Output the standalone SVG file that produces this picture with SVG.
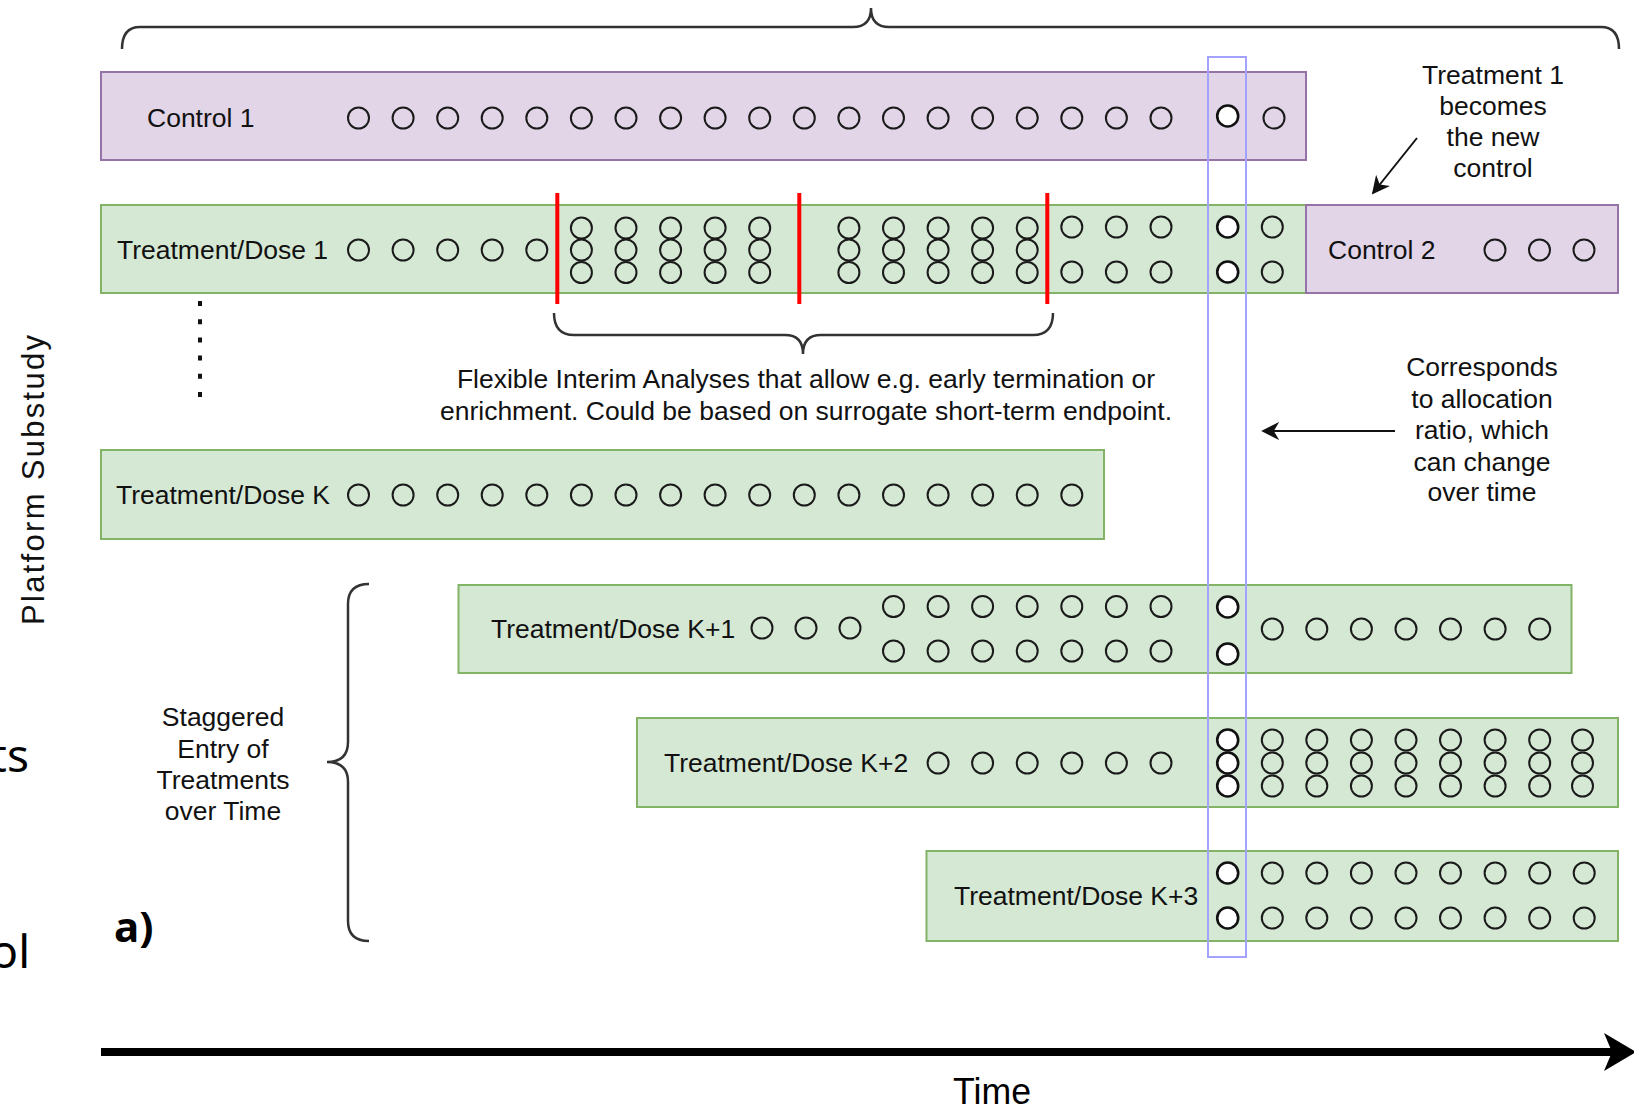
<svg xmlns="http://www.w3.org/2000/svg" width="1634" height="1111" viewBox="0 0 1634 1111">
<style>
.lbl{font-family:"Liberation Sans",Arial,sans-serif;font-size:26.5px;fill:#111}
.note{font-family:"Liberation Sans",Arial,sans-serif;font-size:26.5px;fill:#111;text-anchor:middle}
.purple{fill:#e1d5e7;stroke:#9673a6;stroke-width:2}
.green{fill:#d5e8d4;stroke:#82b366;stroke-width:2}
.c{fill:none;stroke:#1a1a1a;stroke-width:2}
.w{fill:#fff;stroke:#111;stroke-width:2.6}
.red{stroke:#ff0000;stroke-width:4}
.brace{fill:none;stroke:#333;stroke-width:2.5}
.arr{fill:none;stroke:#111;stroke-width:2}
.cut{font-family:"Noto Sans","Open Sans",sans-serif;font-size:46px;fill:#000}
</style>
<defs>
<marker id="ah" viewBox="0 0 10 10" refX="9" refY="5" markerWidth="9" markerHeight="9" orient="auto" markerUnits="strokeWidth">
<path d="M0,0 L10,5 L0,10 L3,5 z" fill="#111"/>
</marker>
</defs>
<rect width="1634" height="1111" fill="#fff"/>

<!-- cut-off text fragments at left edge -->
<text class="cut" x="29" y="772" text-anchor="end">ts</text>
<text class="cut" x="30" y="968" text-anchor="end">ol</text>

<!-- vertical axis label -->
<text transform="translate(44,480) rotate(-90)" text-anchor="middle" font-family="Liberation Sans,Arial,sans-serif" font-size="31" fill="#111" textLength="290" lengthAdjust="spacing">Platform Substudy</text>

<!-- braces -->
<g id="braces">
<path class="brace" d="M122,49 Q122,27 140,27 L853,27 Q871,27 871,8 Q871,27 889,27 L1601,27 Q1619,27 1619,49"/>
<path class="brace" d="M554,313 Q554,335 574,335 L785,335 Q803,335 803,354 Q803,335 821,335 L1033,335 Q1053,335 1053,313" stroke="#222"/>
<path class="brace" d="M369,584 Q348,584 348,604 L348,742 Q348,762 327,762 Q348,762 348,782 L348,921 Q348,941 369,941" stroke-width="2"/>
</g>

<!-- Control 1 -->
<g id="control1">
<rect class="purple" x="101" y="72" width="1205" height="88"/>
<text class="lbl" x="147" y="127">Control 1</text>
<g class="circles">
<circle class="c" cx="358.5" cy="118" r="10.5"/><circle class="c" cx="403.1" cy="118" r="10.5"/><circle class="c" cx="447.7" cy="118" r="10.5"/><circle class="c" cx="492.2" cy="118" r="10.5"/><circle class="c" cx="536.8" cy="118" r="10.5"/><circle class="c" cx="581.4" cy="118" r="10.5"/><circle class="c" cx="626" cy="118" r="10.5"/><circle class="c" cx="670.6" cy="118" r="10.5"/><circle class="c" cx="715.1" cy="118" r="10.5"/><circle class="c" cx="759.7" cy="118" r="10.5"/><circle class="c" cx="804.3" cy="118" r="10.5"/><circle class="c" cx="848.9" cy="118" r="10.5"/><circle class="c" cx="893.5" cy="118" r="10.5"/><circle class="c" cx="938.1" cy="118" r="10.5"/><circle class="c" cx="982.6" cy="118" r="10.5"/><circle class="c" cx="1027.2" cy="118" r="10.5"/><circle class="c" cx="1071.8" cy="118" r="10.5"/><circle class="c" cx="1116.4" cy="118" r="10.5"/><circle class="c" cx="1161" cy="118" r="10.5"/>
<circle class="c" cx="1274" cy="118" r="10.5"/>
</g>
</g>

<!-- Treatment/Dose 1 -->
<g id="treatment1">
<rect class="green" x="101" y="205" width="1205" height="88"/>
<text class="lbl" x="117" y="259">Treatment/Dose 1</text>
<circle class="c" cx="358.5" cy="250" r="10.5"/><circle class="c" cx="403.1" cy="250" r="10.5"/><circle class="c" cx="447.7" cy="250" r="10.5"/><circle class="c" cx="492.2" cy="250" r="10.5"/><circle class="c" cx="536.8" cy="250" r="10.5"/>
<g id="stack1">
<circle class="c" cx="581.4" cy="228" r="10.5"/><circle class="c" cx="581.4" cy="250" r="10.5"/><circle class="c" cx="581.4" cy="272.5" r="10.5"/>
<circle class="c" cx="626" cy="228" r="10.5"/><circle class="c" cx="626" cy="250" r="10.5"/><circle class="c" cx="626" cy="272.5" r="10.5"/>
<circle class="c" cx="670.6" cy="228" r="10.5"/><circle class="c" cx="670.6" cy="250" r="10.5"/><circle class="c" cx="670.6" cy="272.5" r="10.5"/>
<circle class="c" cx="715.1" cy="228" r="10.5"/><circle class="c" cx="715.1" cy="250" r="10.5"/><circle class="c" cx="715.1" cy="272.5" r="10.5"/>
<circle class="c" cx="759.7" cy="228" r="10.5"/><circle class="c" cx="759.7" cy="250" r="10.5"/><circle class="c" cx="759.7" cy="272.5" r="10.5"/>
</g>
<g id="stack2">
<circle class="c" cx="848.9" cy="228" r="10.5"/><circle class="c" cx="848.9" cy="250" r="10.5"/><circle class="c" cx="848.9" cy="272.5" r="10.5"/>
<circle class="c" cx="893.5" cy="228" r="10.5"/><circle class="c" cx="893.5" cy="250" r="10.5"/><circle class="c" cx="893.5" cy="272.5" r="10.5"/>
<circle class="c" cx="938.1" cy="228" r="10.5"/><circle class="c" cx="938.1" cy="250" r="10.5"/><circle class="c" cx="938.1" cy="272.5" r="10.5"/>
<circle class="c" cx="982.6" cy="228" r="10.5"/><circle class="c" cx="982.6" cy="250" r="10.5"/><circle class="c" cx="982.6" cy="272.5" r="10.5"/>
<circle class="c" cx="1027.2" cy="228" r="10.5"/><circle class="c" cx="1027.2" cy="250" r="10.5"/><circle class="c" cx="1027.2" cy="272.5" r="10.5"/>
</g>
<circle class="c" cx="1071.8" cy="227" r="10.5"/><circle class="c" cx="1071.8" cy="272" r="10.5"/>
<circle class="c" cx="1116.4" cy="227" r="10.5"/><circle class="c" cx="1116.4" cy="272" r="10.5"/>
<circle class="c" cx="1161" cy="227" r="10.5"/><circle class="c" cx="1161" cy="272" r="10.5"/>
<circle class="c" cx="1272.3" cy="227" r="10.5"/><circle class="c" cx="1272.3" cy="272" r="10.5"/>
<line class="red" x1="557.3" y1="193" x2="557.3" y2="304"/>
<line class="red" x1="799.3" y1="193" x2="799.3" y2="304"/>
<line class="red" x1="1047.3" y1="193" x2="1047.3" y2="304"/>
</g>

<!-- Control 2 -->
<g id="control2">
<rect class="purple" x="1306" y="205" width="312" height="88"/>
<text class="lbl" x="1328" y="259">Control 2</text>
<circle class="c" cx="1495" cy="250" r="10.5"/><circle class="c" cx="1539.5" cy="250" r="10.5"/><circle class="c" cx="1584" cy="250" r="10.5"/>
</g>

<!-- ellipsis dots -->
<line x1="200" y1="301" x2="200" y2="397" stroke="#111" stroke-width="4" stroke-dasharray="5 13.2"/>

<!-- interim analyses note -->
<g id="note-interim">
<text class="note" x="806" y="388">Flexible Interim Analyses that allow e.g. early termination or</text>
<text class="note" x="806" y="420">enrichment. Could be based on surrogate short-term endpoint.</text>
</g>

<!-- Treatment/Dose K -->
<g id="treatmentK">
<rect class="green" x="101" y="450" width="1003" height="89"/>
<text class="lbl" x="116" y="504">Treatment/Dose K</text>
<circle class="c" cx="358.5" cy="495" r="10.5"/><circle class="c" cx="403.1" cy="495" r="10.5"/><circle class="c" cx="447.7" cy="495" r="10.5"/><circle class="c" cx="492.2" cy="495" r="10.5"/><circle class="c" cx="536.8" cy="495" r="10.5"/><circle class="c" cx="581.4" cy="495" r="10.5" stroke-width="2.6"/><circle class="c" cx="626" cy="495" r="10.5"/><circle class="c" cx="670.6" cy="495" r="10.5"/><circle class="c" cx="715.1" cy="495" r="10.5"/><circle class="c" cx="759.7" cy="495" r="10.5"/><circle class="c" cx="804.3" cy="495" r="10.5"/><circle class="c" cx="848.9" cy="495" r="10.5"/><circle class="c" cx="893.5" cy="495" r="10.5"/><circle class="c" cx="938.1" cy="495" r="10.5"/><circle class="c" cx="982.6" cy="495" r="10.5"/><circle class="c" cx="1027.2" cy="495" r="10.5"/><circle class="c" cx="1071.8" cy="495" r="10.5"/>
</g>

<!-- Treatment/Dose K+1 -->
<g id="treatmentK1">
<rect class="green" x="458.5" y="585" width="1113" height="88"/>
<text class="lbl" x="491" y="638">Treatment/Dose K+1</text>
<circle class="c" cx="762" cy="628" r="10.5"/><circle class="c" cx="806" cy="628" r="10.5"/><circle class="c" cx="850" cy="628" r="10.5"/>
<circle class="c" cx="893.5" cy="606.5" r="10.5"/><circle class="c" cx="938.1" cy="606.5" r="10.5"/><circle class="c" cx="982.6" cy="606.5" r="10.5"/><circle class="c" cx="1027.2" cy="606.5" r="10.5"/><circle class="c" cx="1071.8" cy="606.5" r="10.5"/><circle class="c" cx="1116.4" cy="606.5" r="10.5"/><circle class="c" cx="1161" cy="606.5" r="10.5"/>
<circle class="c" cx="893.5" cy="651" r="10.5"/><circle class="c" cx="938.1" cy="651" r="10.5"/><circle class="c" cx="982.6" cy="651" r="10.5"/><circle class="c" cx="1027.2" cy="651" r="10.5"/><circle class="c" cx="1071.8" cy="651" r="10.5"/><circle class="c" cx="1116.4" cy="651" r="10.5"/><circle class="c" cx="1161" cy="651" r="10.5"/>
<circle class="c" cx="1272.3" cy="629" r="10.5"/><circle class="c" cx="1316.8" cy="629" r="10.5"/><circle class="c" cx="1361.4" cy="629" r="10.5"/><circle class="c" cx="1406" cy="629" r="10.5"/><circle class="c" cx="1450.5" cy="629" r="10.5"/><circle class="c" cx="1495.1" cy="629" r="10.5"/><circle class="c" cx="1539.7" cy="629" r="10.5"/>
</g>

<!-- Treatment/Dose K+2 -->
<g id="treatmentK2">
<rect class="green" x="637" y="718" width="981" height="89"/>
<text class="lbl" x="664" y="772">Treatment/Dose K+2</text>
<circle class="c" cx="938.1" cy="763" r="10.5"/><circle class="c" cx="982.6" cy="763" r="10.5"/><circle class="c" cx="1027.2" cy="763" r="10.5"/><circle class="c" cx="1071.8" cy="763" r="10.5"/><circle class="c" cx="1116.4" cy="763" r="10.5"/><circle class="c" cx="1161" cy="763" r="10.5"/>
<g id="k2stacks">
<circle class="c" cx="1272.3" cy="740" r="10.5"/><circle class="c" cx="1272.3" cy="763" r="10.5"/><circle class="c" cx="1272.3" cy="786" r="10.5"/>
<circle class="c" cx="1316.8" cy="740" r="10.5"/><circle class="c" cx="1316.8" cy="763" r="10.5"/><circle class="c" cx="1316.8" cy="786" r="10.5"/>
<circle class="c" cx="1361.4" cy="740" r="10.5"/><circle class="c" cx="1361.4" cy="763" r="10.5"/><circle class="c" cx="1361.4" cy="786" r="10.5"/>
<circle class="c" cx="1406" cy="740" r="10.5"/><circle class="c" cx="1406" cy="763" r="10.5"/><circle class="c" cx="1406" cy="786" r="10.5"/>
<circle class="c" cx="1450.5" cy="740" r="10.5"/><circle class="c" cx="1450.5" cy="763" r="10.5"/><circle class="c" cx="1450.5" cy="786" r="10.5"/>
<circle class="c" cx="1495.1" cy="740" r="10.5"/><circle class="c" cx="1495.1" cy="763" r="10.5"/><circle class="c" cx="1495.1" cy="786" r="10.5"/>
<circle class="c" cx="1539.7" cy="740" r="10.5"/><circle class="c" cx="1539.7" cy="763" r="10.5"/><circle class="c" cx="1539.7" cy="786" r="10.5"/>
<circle class="c" cx="1582.5" cy="740" r="10.5"/><circle class="c" cx="1582.5" cy="763" r="10.5"/><circle class="c" cx="1582.5" cy="786" r="10.5"/>
</g>
</g>

<!-- Treatment/Dose K+3 -->
<g id="treatmentK3">
<rect class="green" x="926.5" y="851" width="691.5" height="90"/>
<text class="lbl" x="954" y="905">Treatment/Dose K+3</text>
<circle class="c" cx="1272.3" cy="873" r="10.5"/><circle class="c" cx="1316.8" cy="873" r="10.5"/><circle class="c" cx="1361.4" cy="873" r="10.5"/><circle class="c" cx="1406" cy="873" r="10.5"/><circle class="c" cx="1450.5" cy="873" r="10.5"/><circle class="c" cx="1495.1" cy="873" r="10.5"/><circle class="c" cx="1539.7" cy="873" r="10.5"/><circle class="c" cx="1584.2" cy="873" r="10.5"/>
<circle class="c" cx="1272.3" cy="918" r="10.5"/><circle class="c" cx="1316.8" cy="918" r="10.5"/><circle class="c" cx="1361.4" cy="918" r="10.5"/><circle class="c" cx="1406" cy="918" r="10.5"/><circle class="c" cx="1450.5" cy="918" r="10.5"/><circle class="c" cx="1495.1" cy="918" r="10.5"/><circle class="c" cx="1539.7" cy="918" r="10.5"/><circle class="c" cx="1584.2" cy="918" r="10.5"/>
</g>

<!-- current allocation window -->
<g id="allocation-window">
<rect x="1208" y="57" width="38" height="900" fill="none" stroke="#a3a3ff" stroke-width="2"/>
<circle class="w" cx="1227.7" cy="116" r="10.5"/>
<circle class="w" cx="1227.7" cy="227" r="10.5"/><circle class="w" cx="1227.7" cy="272" r="10.5"/>
<circle class="w" cx="1227.7" cy="607" r="10.5"/><circle class="w" cx="1227.7" cy="654" r="10.5"/>
<circle class="w" cx="1227.7" cy="740" r="10.5"/><circle class="w" cx="1227.7" cy="763" r="10.5"/><circle class="w" cx="1227.7" cy="786" r="10.5"/>
<circle class="w" cx="1227.7" cy="873" r="10.5"/><circle class="w" cx="1227.7" cy="918" r="10.5"/>
</g>

<!-- annotations -->
<g id="note-new-control">
<text class="note" x="1493" y="84">Treatment 1</text>
<text class="note" x="1493" y="115">becomes</text>
<text class="note" x="1493" y="146">the new</text>
<text class="note" x="1493" y="177">control</text>
</g>
<g id="note-allocation">
<text class="note" x="1482" y="376">Corresponds</text>
<text class="note" x="1482" y="408">to allocation</text>
<text class="note" x="1482" y="439">ratio, which</text>
<text class="note" x="1482" y="471">can change</text>
<text class="note" x="1482" y="501">over time</text>
</g>
<g id="note-staggered">
<text class="note" x="223" y="726">Staggered</text>
<text class="note" x="223" y="758">Entry of</text>
<text class="note" x="223" y="789">Treatments</text>
<text class="note" x="223" y="820">over Time</text>
</g>
<text x="114" y="942" font-family="Noto Sans,Open Sans,sans-serif" font-size="42" font-weight="bold" fill="#000">a)</text>

<!-- connectors -->
<g id="connectors">
<line class="arr" x1="1417" y1="138" x2="1373" y2="193" marker-end="url(#ah)"/>
<line class="arr" x1="1395" y1="431" x2="1263" y2="431" marker-end="url(#ah)"/>
<line x1="101" y1="1052" x2="1612" y2="1052" stroke="#000" stroke-width="8"/>
<path d="M1636,1052 L1604,1033 L1612,1052 L1604,1071 z" fill="#000"/>
</g>
<text x="992" y="1104" text-anchor="middle" font-family="Liberation Sans,Arial,sans-serif" font-size="37" fill="#000" textLength="78" lengthAdjust="spacingAndGlyphs">Time</text>
</svg>
